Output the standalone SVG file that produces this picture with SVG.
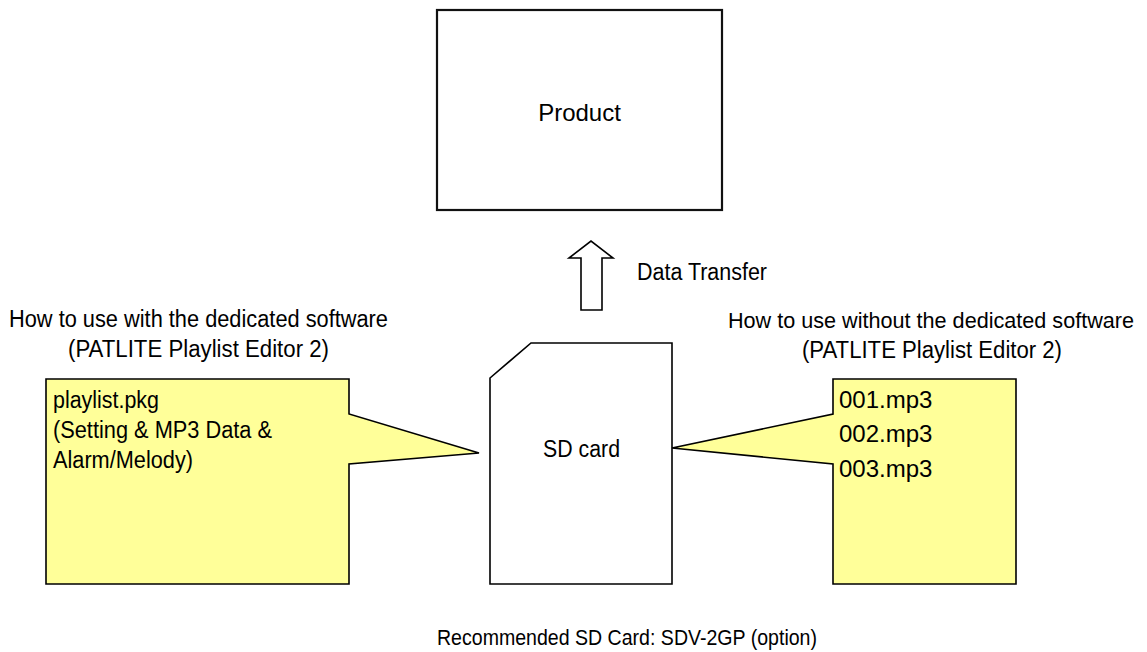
<svg xmlns="http://www.w3.org/2000/svg" width="1147" height="652" viewBox="0 0 1147 652">
<style>
text{font-family:"Liberation Sans",Arial,sans-serif;fill:#000}
.lbl{font-size:23.5px}
.shape{fill:#fff;stroke:#000;stroke-width:1.6}
.call{fill:#ffff99;stroke:#000;stroke-width:1.6;stroke-linejoin:miter}
</style>
<rect width="1147" height="652" fill="#fff"/>
<g id="product">
<rect x="437" y="10" width="285" height="200" fill="#fff" stroke="#111" stroke-width="2.2"/>
<text x="579.5" y="120.5" text-anchor="middle" style="font-size:24px">Product</text>
</g>
<g id="connectors">
<path id="data-transfer-arrow" class="shape" d="M581,310 L581,258 L569,258 L591,241 L613,258 L602,258 L602,310 Z"/>
<text x="637" y="280" class="lbl" textLength="130" lengthAdjust="spacingAndGlyphs">Data Transfer</text>
</g>
<g id="sdcard">
<path class="shape" d="M490,584 L490,378 L531,343 L672,343 L672,584 Z"/>
<text x="543" y="457" class="lbl" textLength="77" lengthAdjust="spacingAndGlyphs">SD card</text>
</g>
<g id="left-heading">
<text x="9" y="327" class="lbl" textLength="379" lengthAdjust="spacingAndGlyphs">How to use with the dedicated software</text>
<text x="68" y="357" class="lbl" textLength="261" lengthAdjust="spacingAndGlyphs">(PATLITE Playlist Editor 2)</text>
</g>
<g id="left-callout">
<path class="call" d="M46,379 L349,379 L349,414 L479,453 L349,464 L349,584 L46,584 Z"/>
<text x="53" y="408" class="lbl" textLength="106" lengthAdjust="spacingAndGlyphs">playlist.pkg</text>
<text x="53" y="438" class="lbl" textLength="219" lengthAdjust="spacingAndGlyphs">(Setting &amp; MP3 Data &amp;</text>
<text x="53" y="468" class="lbl" textLength="140" lengthAdjust="spacingAndGlyphs">Alarm/Melody)</text>
</g>
<g id="right-heading">
<text x="728" y="328" style="font-size:22px" textLength="406" lengthAdjust="spacingAndGlyphs">How to use without the dedicated software</text>
<text x="802" y="358" class="lbl" textLength="260" lengthAdjust="spacingAndGlyphs">(PATLITE Playlist Editor 2)</text>
</g>
<g id="right-callout">
<path class="call" d="M833,379 L1016,379 L1016,584 L833,584 L833,464 L672,448 L833,414 Z"/>
<text x="839" y="408" style="font-size:24px">001.mp3</text>
<text x="839" y="442" style="font-size:24px">002.mp3</text>
<text x="839" y="477" style="font-size:24px">003.mp3</text>
</g>
<g id="footnote">
<text x="437" y="645" style="font-size:21.5px" textLength="380" lengthAdjust="spacingAndGlyphs">Recommended SD Card: SDV-2GP (option)</text>
</g>
</svg>
